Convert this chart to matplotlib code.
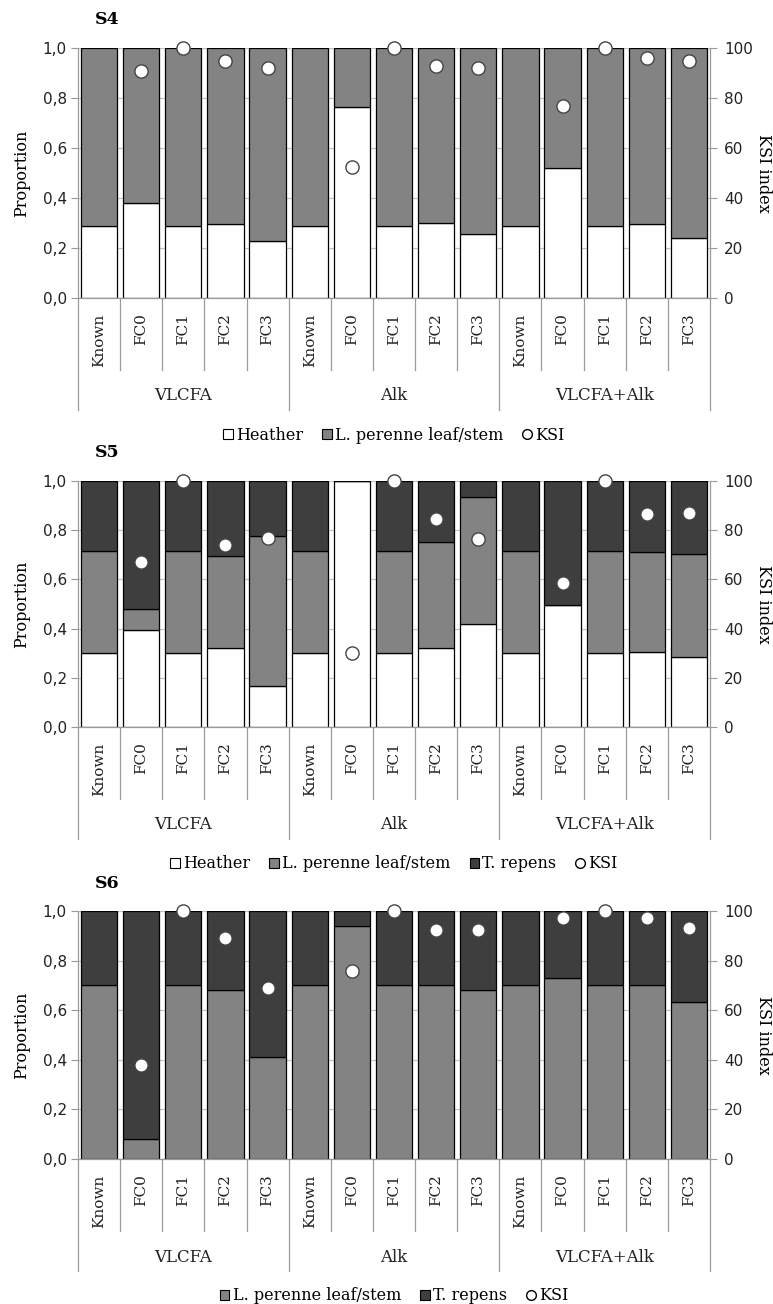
import numpy as np
import matplotlib
matplotlib.use('Agg')
import matplotlib.pyplot as plt
from matplotlib.patches import Patch
from matplotlib.lines import Line2D

# category layout
categories = ['Known', 'FC0', 'FC1', 'FC2', 'FC3'] * 3
groups = ['VLCFA', 'Alk', 'VLCFA+Alk']
prop_ticks = [0.0, 0.2, 0.4, 0.6, 0.8, 1.0]
prop_ticklabels = ['0,0', '0,2', '0,4', '0,6', '0,8', '1,0']
ksi_ticks = [0, 20, 40, 60, 80, 100]

# S4 : Heather / L. perenne
s4_heather = [0.29, 0.38, 0.29, 0.295, 0.23,
              0.29, 0.765, 0.29, 0.30, 0.255,
              0.29, 0.52, 0.29, 0.295, 0.24]
s4_perenne = [0.71, 0.62, 0.71, 0.705, 0.77,
              0.71, 0.235, 0.71, 0.70, 0.745,
              0.71, 0.48, 0.71, 0.705, 0.76]
s4_ksi = [np.nan, 91, 100, 95, 92,
          np.nan, 52.5, 100, 93, 92,
          np.nan, 77, 100, 96, 95]

# S5 : Heather / L. perenne / T. repens
s5_heather = [0.30, 0.395, 0.30, 0.32, 0.165,
              0.30, 1.00, 0.30, 0.323, 0.417,
              0.30, 0.495, 0.30, 0.305, 0.285]
s5_perenne = [0.415, 0.083, 0.415, 0.375, 0.612,
              0.415, 0.0, 0.415, 0.43, 0.519,
              0.415, 0.0, 0.415, 0.406, 0.418]
s5_repens = [0.285, 0.522, 0.285, 0.305, 0.223,
             0.285, 0.0, 0.285, 0.247, 0.064,
             0.285, 0.505, 0.285, 0.289, 0.297]
s5_ksi = [np.nan, 67, 100, 74, 77,
          np.nan, 30, 100, 84.5, 76.5,
          np.nan, 58.5, 100, 86.5, 87]

# S6 : L. perenne / T. repens
s6_perenne = [0.70, 0.08, 0.70, 0.68, 0.41,
              0.70, 0.94, 0.70, 0.70, 0.68,
              0.70, 0.73, 0.70, 0.70, 0.635]
s6_repens = [0.30, 0.92, 0.30, 0.32, 0.59,
             0.30, 0.06, 0.30, 0.30, 0.32,
             0.30, 0.27, 0.30, 0.30, 0.365]
s6_ksi = [np.nan, 38, 100, 89, 69,
          np.nan, 76, 100, 92.5, 92.5,
          np.nan, 97, 100, 97, 93]

WHITE = '#ffffff'
MID = '#838383'
DARK = '#3e3e3e'
GRID = '#c4c4c4'
AXIS = '#9a9a9a'
SERIF = 'DejaVu Serif'

FIG_W, FIG_H = 773, 1304


def draw_panel(fig, top_px, bottom_px, title, segments, ksi):
    left_px, right_px = 78, 710
    rect = [left_px / FIG_W, 1 - bottom_px / FIG_H,
            (right_px - left_px) / FIG_W, (bottom_px - top_px) / FIG_H]
    ax = fig.add_axes(rect)
    h = bottom_px - top_px

    def fy(px):
        # pixels below the axis bottom -> axes fraction
        return -px / h

    x = np.arange(len(categories))
    bottom = np.zeros(len(categories))
    for label, vals, color in segments:
        vals = np.array(vals)
        ax.bar(x, vals, width=0.86, bottom=bottom, color=color,
               edgecolor='black', linewidth=0.9, zorder=2)
        bottom = bottom + vals

    ax.set_xlim(-0.5, len(categories) - 0.5)
    ax.set_ylim(0, 1)
    ax.set_yticks(prop_ticks)
    ax.set_yticklabels(prop_ticklabels)
    ax.yaxis.grid(True, color=GRID, linewidth=0.9)
    ax.set_axisbelow(True)
    ax.tick_params(axis='y', length=5, width=0.8, color=AXIS, pad=3,
                   labelsize=11, labelcolor='#222222')
    ax.set_xticks(x)
    ax.set_xticklabels(categories, rotation=90, fontfamily=SERIF, fontsize=11)
    ax.tick_params(axis='x', length=0, pad=11, labelcolor='#222222')
    for sp in ['top', 'right']:
        ax.spines[sp].set_visible(False)
    for sp in ['left', 'bottom']:
        ax.spines[sp].set_color(AXIS)
        ax.spines[sp].set_linewidth(0.9)

    ax.set_ylabel('Proportion', fontfamily=SERIF, fontsize=11.5, labelpad=9)

    # category boxes below the axis
    tr = ax.get_xaxis_transform()
    for i in range(len(categories) + 1):
        xe = i - 0.5
        low = fy(112) if i % 5 == 0 else fy(72)
        ax.plot([xe, xe], [0, low], color=AXIS, linewidth=0.9,
                transform=tr, clip_on=False)
    for g, name in enumerate(groups):
        ax.text(g * 5 + 2, fy(98), name, transform=tr, ha='center',
                va='center', fontfamily=SERIF, fontsize=12, color='#222222')

    ax.text((95 - left_px) / (right_px - left_px), 1 + 28 / h, title,
            transform=ax.transAxes, ha='left', va='center',
            fontfamily=SERIF, fontweight='bold', fontsize=12.5)

    ax2 = ax.twinx()
    ax2.plot(x, ksi, linestyle='none', marker='o', markersize=9.5,
             markerfacecolor='white', markeredgecolor='#444444',
             markeredgewidth=1.0, clip_on=False, zorder=5)
    ax2.set_ylim(0, 100)
    ax2.set_yticks(ksi_ticks)
    ax2.tick_params(axis='y', length=5, width=0.8, color=AXIS, pad=5,
                    labelsize=11, labelcolor='#222222')
    for sp in ['top', 'left', 'bottom']:
        ax2.spines[sp].set_visible(False)
    ax2.spines['right'].set_color(AXIS)
    ax2.spines['right'].set_linewidth(0.9)
    ax2.set_ylabel('KSI index', fontfamily=SERIF, fontsize=11.5,
                   rotation=270, labelpad=14)

    handles = [Patch(facecolor=c, edgecolor='black', linewidth=0.8, label=l)
               for l, v, c in segments]
    handles.append(Line2D([], [], linestyle='none', marker='o', markersize=7,
                          markerfacecolor='white', markeredgecolor='black',
                          markeredgewidth=1.0, label='KSI'))
    ax.legend(handles=handles, loc='center', bbox_to_anchor=(0.5, fy(137)),
              ncol=len(handles), frameon=False, handlelength=0.6,
              handleheight=0.6, handletextpad=0.2, columnspacing=1.2,
              prop={'family': SERIF, 'size': 11.5})
    return ax


fig = plt.figure(figsize=(FIG_W / 100, FIG_H / 100), dpi=100)

draw_panel(fig, 48, 298, 'S4',
           [('Heather', s4_heather, WHITE),
            ('L. perenne leaf/stem', s4_perenne, MID)],
           s4_ksi)
draw_panel(fig, 481, 727, 'S5',
           [('Heather', s5_heather, WHITE),
            ('L. perenne leaf/stem', s5_perenne, MID),
            ('T. repens', s5_repens, DARK)],
           s5_ksi)
draw_panel(fig, 911, 1159, 'S6',
           [('L. perenne leaf/stem', s6_perenne, MID),
            ('T. repens', s6_repens, DARK)],
           s6_ksi)

fig.savefig('out.png', dpi=100)
